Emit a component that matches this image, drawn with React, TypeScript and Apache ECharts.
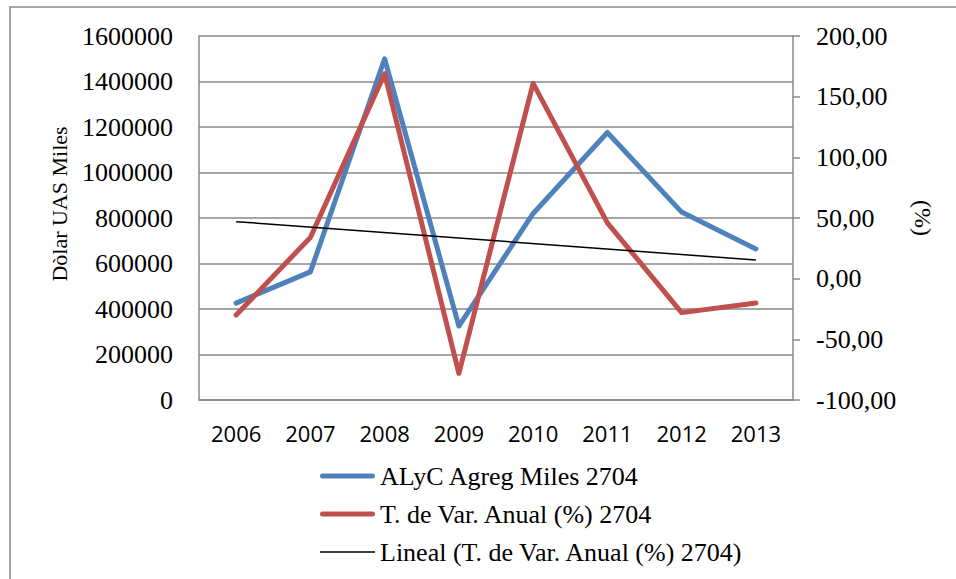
import React, { useEffect, useRef } from "react";
import * as echarts from "echarts";

const years = ["2006", "2007", "2008", "2009", "2010", "2011", "2012", "2013"];
const alycValues = [426000, 563000, 1500000, 325000, 820000, 1176000, 826000, 664000];
const varValues = [-30, 34, 169, -78, 161, 46, -28, -20];
const trendYears = ["2006", "2013"];
const trendValues = [47.0, 15.4];
const leftTicks = { min: 0, max: 1600000, interval: 200000 };
const rightTicks = { min: -100, max: 200, interval: 50 };

const seriesNames = [
  "ALyC Agreg Miles 2704",
  "T. de Var. Anual (%) 2704",
  "Lineal (T. de Var. Anual (%) 2704)",
];

const GRAY = "#898989";
const SERIF = "'Liberation Serif', 'Times New Roman', serif";

const corners = "M0,0 L0.01,0 L0.01,0.01 Z M55,12 L54.99,12 L54.99,11.99 Z";
const thickIcon =
  "path://" + corners + " M2.5,3.5 L52.5,3.5 A2.5,2.5 0 0 1 52.5,8.5 L2.5,8.5 A2.5,2.5 0 0 1 2.5,3.5 Z";
const thinIcon = "path://" + corners + " M0,5.25 L55,5.25 L55,6.75 L0,6.75 Z";

export default function App() {
  const ref = useRef<HTMLDivElement>(null);
  useEffect(() => {
    if (!ref.current) return;
    const chart = echarts.init(ref.current, undefined, { renderer: "svg" });
    chart.setOption({
      animation: false,
      backgroundColor: "#ffffff",
      grid: { left: 199, top: 36, right: 163, bottom: 179 },
      xAxis: {
        type: "category",
        data: years,
        boundaryGap: true,
        axisLine: { show: true, lineStyle: { color: GRAY, width: 1.5 } },
        axisTick: { show: false },
        axisLabel: {
          color: "#000",
          fontFamily: "'Open Sans', sans-serif",
          fontSize: 22,
          margin: 22,
        },
        splitLine: { show: false },
      },
      yAxis: [
        {
          type: "value",
          position: "left",
          min: leftTicks.min,
          max: leftTicks.max,
          interval: leftTicks.interval,
          axisLine: { show: true, lineStyle: { color: GRAY, width: 1.5 } },
          axisTick: { show: false },
          axisLabel: {
            color: "#000",
            fontFamily: SERIF,
            fontSize: 26,
            margin: 26,
            formatter: (v: number) => String(v),
          },
          splitLine: { show: true, lineStyle: { color: GRAY, width: 1.5 } },
        },
        {
          type: "value",
          position: "right",
          min: rightTicks.min,
          max: rightTicks.max,
          interval: rightTicks.interval,
          axisLine: { show: true, lineStyle: { color: GRAY, width: 1.5 } },
          axisTick: { show: true, inside: false, length: 7, lineStyle: { color: GRAY, width: 1.5 } },
          axisLabel: {
            color: "#000",
            fontFamily: SERIF,
            fontSize: 26,
            margin: 23,
            formatter: (v: number) => v.toFixed(2).replace(".", ","),
          },
          splitLine: { show: false },
        },
      ],
      legend: {
        orient: "vertical",
        left: 315,
        top: 458,
        itemWidth: 55,
        itemHeight: 12,
        itemGap: 12,
        textStyle: { color: "#000", fontFamily: SERIF, fontSize: 26 },
        data: [
          { name: seriesNames[0], icon: thickIcon, itemStyle: { color: "#4F81BD" } },
          { name: seriesNames[1], icon: thickIcon, itemStyle: { color: "#C0504D" } },
          { name: seriesNames[2], icon: thinIcon, itemStyle: { color: "#000" } },
        ],
      },
      series: [
        {
          name: seriesNames[0],
          type: "line",
          yAxisIndex: 0,
          data: alycValues,
          symbol: "none",
          color: "#4F81BD",
          lineStyle: { color: "#4F81BD", width: 5, cap: "round", join: "round" },
        },
        {
          name: seriesNames[1],
          type: "line",
          yAxisIndex: 1,
          data: varValues,
          symbol: "none",
          color: "#C0504D",
          lineStyle: { color: "#C0504D", width: 5, cap: "round", join: "round" },
        },
        {
          name: seriesNames[2],
          type: "line",
          yAxisIndex: 1,
          data: trendYears.map((y, i) => [y, trendValues[i]]),
          symbol: "none",
          color: "#000",
          lineStyle: { color: "#000", width: 1.5 },
          z: 3,
        },
      ],
      graphic: [
        {
          type: "rect",
          shape: { x: 10, y: 7, width: 970, height: 600 },
          style: { fill: "none", stroke: GRAY, lineWidth: 1.5 },
          silent: true,
        },
        {
          type: "text",
          x: 59,
          y: 204,
          rotation: Math.PI / 2,
          style: {
            text: "Dòlar UAS Miles",
            fill: "#000",
            font: `22px ${SERIF}`,
            textAlign: "center",
            textVerticalAlign: "middle",
          },
        },
        {
          type: "text",
          x: 923,
          y: 218,
          rotation: -Math.PI / 2,
          style: {
            text: "(%)",
            fill: "#000",
            font: `24px ${SERIF}`,
            textAlign: "center",
            textVerticalAlign: "middle",
          },
        },
      ],
    });
    return () => chart.dispose();
  }, []);
  return (
    <div
      ref={ref}
      style={{ position: "fixed", left: 0, top: 0, width: 956, height: 579 }}
    />
  );
}
